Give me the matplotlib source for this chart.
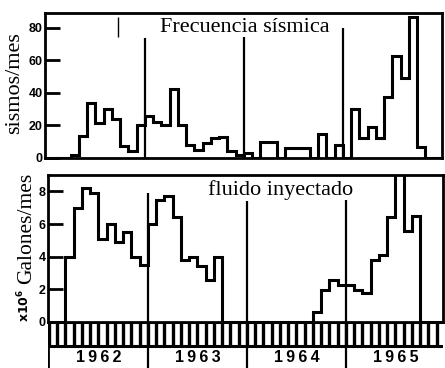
import matplotlib.pyplot as plt
import numpy as np

# monthly values, month 0 = January 1962
sismos = [0, 0, 0, 2, 13.5, 34, 21.5, 30, 24, 7.4, 4.3, 20,
          26, 22, 20, 42.5, 20, 8, 5, 9, 12, 13, 4, 2,
          3, 0, 10, 10, 0, 6, 6, 6, 0, 15, 0, 8,
          0, 30, 12.5, 19, 12.5, 37.5, 63, 49, 87, 7, 0, 0]
fluido = [0, 0, 4.0, 7.0, 8.2, 7.9, 5.1, 6.0, 4.9, 5.5, 4.0, 3.5,
          6.0, 7.5, 7.7, 6.4, 3.8, 4.0, 3.4, 2.6, 4.0, 0, 0, 0,
          0, 0, 0, 0, 0, 0, 0, 0, 0.6, 1.95, 2.55, 2.25,
          2.25, 1.95, 1.75, 3.8, 4.1, 6.4, 10.0, 5.6, 6.5, 0, 0, 0]
bordes = np.arange(len(sismos) + 1)

anios = ['1962', '1963', '1964', '1965']
cortes = [12, 24, 36]              # start of each new year
alto_sismos = [74, 74.5, 80]       # height of the year markers
alto_fluido = [7.9, 7.4, 7.5]

SERIF = 'Liberation Serif'
SANS = 'Liberation Sans'
LW = 2.2

fig = plt.figure(figsize=(4.45, 3.68), dpi=100)
W, H = 445, 368


def rect(x0, x1, ytop, ybot):
    return [x0 / W, (H - ybot) / H, (x1 - x0) / W, (ybot - ytop) / H]


ax1 = fig.add_axes(rect(45, 442, 12.5, 158))
ax2 = fig.add_axes(rect(48, 443, 175, 322))
ax3 = fig.add_axes(rect(48, 443, 322, 368))

# --- seismic frequency ---
ax1.stairs(sismos, bordes, baseline=0, color='black', lw=LW, joinstyle='miter')
ax1.vlines(cortes, 0, alto_sismos, color='black', lw=1.6)
ax1.vlines(8.7, 74.5, 87, color='black', lw=1.0)
ax1.set_xlim(-0.12, 48.0)
ax1.set_ylim(0, 89.5)
ax1.set_yticks([0, 20, 40, 60, 80], ['0', '20', '40', '60', '80'],
               fontweight='bold', fontfamily=SANS, fontsize=9)
ax1.text(0.29, 0.866, 'Frecuencia sísmica', transform=ax1.transAxes,
         fontfamily=SERIF, fontsize=16, va='baseline', ha='left')

# --- injected fluid ---
ax2.stairs(fluido, bordes, baseline=0, color='black', lw=LW, joinstyle='miter')
ax2.vlines(cortes, 0, alto_fluido, color='black', lw=1.6)
ax2.set_xlim(-0.12, 47.76)
ax2.set_ylim(0, 9.0)
ax2.set_yticks([0, 2, 4, 6, 8], ['0', '2', '4', '6', '8'],
               fontweight='bold', fontfamily=SANS, fontsize=9)
ax2.text(0.405, 0.864, 'fluido inyectado', transform=ax2.transAxes,
         fontfamily=SERIF, fontsize=16, va='baseline', ha='left')

for ax in (ax1, ax2):
    ax.set_xticks([])
    ax.tick_params(axis='y', direction='in', length=10.5, width=2, pad=1.5)
    for s in ax.spines.values():
        s.set_linewidth(2)

# --- month strip and year labels ---
ax3.set_xlim(-0.12, 47.76)
ax3.set_ylim(0, 46)
ax3.axis('off')
ax3.hlines([46, 22], -0.12, 47.76, color='black', lw=2.2)
ax3.vlines(np.arange(0, 48), 22, 46, color='black', lw=2.4)
ax3.vlines([-0.12], 0, 46, color='black', lw=2)
ax3.vlines(cortes, 0, 46, color='black', lw=1.6)
for i, a in enumerate(anios):
    ax3.text(6 + 12 * i, 10, '\u2009'.join(a), ha='center', va='center',
             fontfamily=SANS, fontweight='bold', fontsize=11.5)

fig.text(15 / W, (H - 83) / H, 'sismos/mes', rotation=90, ha='center',
         va='center', fontfamily=SERIF, fontsize=16)
fig.text(24 / W, (H - 322) / H, r'$\mathbf{x10^6}$', rotation=90,
         ha='center', va='bottom', fontsize=9)
fig.text(27 / W, (H - 284) / H, 'Galones/mes', rotation=90,
         ha='center', va='bottom', fontfamily=SERIF, fontsize=15.5)

fig.savefig('out.png', dpi=100)
